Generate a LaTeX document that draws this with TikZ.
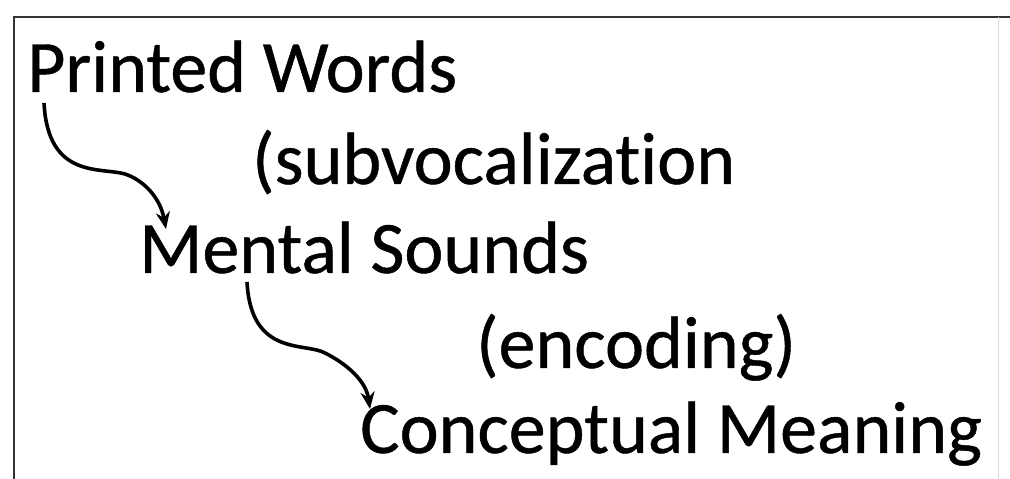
\documentclass[tikz,border=0pt]{standalone}
\usepackage{fontspec}
\setmainfont[Ligatures=NoCommon,FakeBold=0.6]{Carlito}
\usetikzlibrary{arrows.meta}
\begin{document}
\begin{tikzpicture}[x=1pt,y=1pt,
  lbl/.style={anchor=base west,inner sep=0pt,font=\fontsize{74}{88}\selectfont},
  flow/.style={line width=3.6pt,-{Stealth[length=17pt,width=14pt]}}]
\useasboundingbox (0,0) rectangle (1010,479);
\fill[white] (0,0) rectangle (1010,479);
% frame
\draw[line width=2.5pt,black!80] (14,0) -- (14,462) -- (1010,462);
\draw[line width=1pt,black!15] (998,0) -- (998,462);
% texts
\node[lbl] (pw) at (27,387) {Printed Words};
\node[lbl] (sv) at (252,295) {(subvocalization};
\node[lbl] (ms) at (139,206) {Mental Sounds};
\node[lbl] (en) at (476,111) {(encoding)};
\node[lbl] (cm) at (360,26) {Conceptual Meaning};
% connectors
\coordinate (a1) at (44,376);
\coordinate (b1) at (166,250);
\coordinate (a2) at (247,197);
\coordinate (b2) at (370,70);
\draw[flow] (a1) .. controls (48,300) and (100,312) .. (125,305)
  .. controls (143,299) and (160,282) .. (b1);
\draw[flow] (a2) .. controls (251,122) and (305,137) .. (325,126)
  .. controls (347,115) and (366,98) .. (b2);
\end{tikzpicture}
\end{document}
